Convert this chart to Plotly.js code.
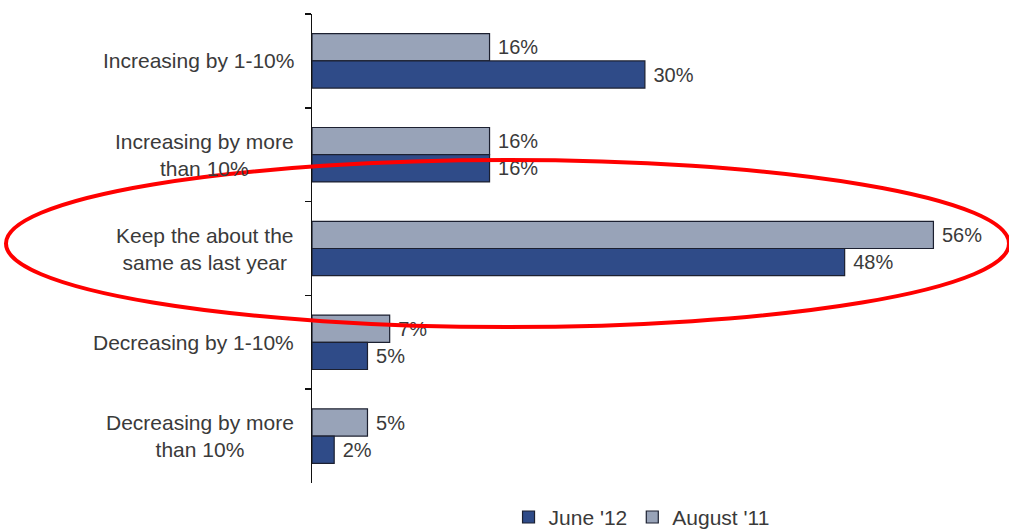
<!DOCTYPE html>
<html>
<head>
<meta charset="utf-8">
<script src="https://cdn.plot.ly/plotly-3.0.1.min.js"></script>
<style>html,body{margin:0;padding:0;background:#fff;}#chart{width:1009px;height:529px;}</style>
</head>
<body>
<div id="chart"></div>
<script>
var categories = ["Increasing by 1-10%", "Increasing by more than 10%", "Keep the about the same as last year", "Decreasing by 1-10%", "Decreasing by more than 10%"];
var categoryLabels = ["Increasing by 1-10%", "Increasing by more<br>than 10%", "Keep the about the<br>same as last year", "Decreasing by 1-10%", "Decreasing by more<br>than 10%"];
var august11 = [16, 16, 56, 7, 5];
var june12 = [30, 16, 48, 5, 2];

var fontFam = "Liberation Sans, Arial, sans-serif";
var txtColor = "#3a3a3a";

var traces = [
  {
    type: "bar", orientation: "h", name: "August '11",
    y: categories, x: august11,
    marker: {color: "#98a3b8", line: {color: "#1c2030", width: 1.2}},
    text: august11.map(function(v){return "\u00a0" + v + "%";}),
    textposition: "outside", cliponaxis: false,
    textfont: {family: fontFam, size: 20, color: txtColor},
    hoverinfo: "none"
  },
  {
    type: "bar", orientation: "h", name: "June '12",
    y: categories, x: june12,
    marker: {color: "#2f4b88", line: {color: "#1c2030", width: 1.2}},
    text: june12.map(function(v){return "\u00a0" + v + "%";}),
    textposition: "outside", cliponaxis: false,
    textfont: {family: fontFam, size: 20, color: txtColor},
    hoverinfo: "none"
  }
];

var annotations = categories.map(function(c, i){
  return {
    xref: "paper", yref: "y", x: 0, y: c, xshift: -16,
    xanchor: "right", yanchor: "middle", align: "center",
    text: categoryLabels[i], showarrow: false,
    font: {family: fontFam, size: 21, color: txtColor}
  };
});

var layout = {
  width: 1009, height: 529,
  margin: {l: 312, r: 9, t: 14, b: 46, autoexpand: false},
  paper_bgcolor: "#ffffff", plot_bgcolor: "#ffffff",
  barmode: "group", bargap: 0.42, bargroupgap: 0,
  showlegend: true,
  legend: {
    orientation: "h", xref: "container", x: 0.504, xanchor: "left",
    yref: "container", y: 0.022, yanchor: "middle",
    traceorder: "reversed",
    font: {family: fontFam, size: 21, color: txtColor},
    itemwidth: 30, tracegroupgap: 0, bgcolor: "rgba(0,0,0,0)"
  },
  xaxis: {
    range: [0, 62], visible: false, showgrid: false, zeroline: false, fixedrange: true
  },
  yaxis: {
    type: "category", range: [4.5, -0.5],
    showline: true, linecolor: "#111", linewidth: 1.5,
    ticks: "outside", tickson: "boundaries", ticklen: 6, tickwidth: 1.5, tickcolor: "#111",
    showticklabels: false, showgrid: false, zeroline: false, fixedrange: true
  },
  annotations: annotations,
  shapes: [
    {
      type: "circle", xref: "paper", yref: "paper",
      x0: (6 - 312) / 688, x1: (1009 - 312) / 688,
      y0: (483 - 327) / 469, y1: (483 - 160) / 469,
      line: {color: "#ff0000", width: 4}, layer: "above"
    }
  ]
};

Plotly.newPlot("chart", traces, layout, {displayModeBar: false, staticPlot: true});
</script>
</body>
</html>
